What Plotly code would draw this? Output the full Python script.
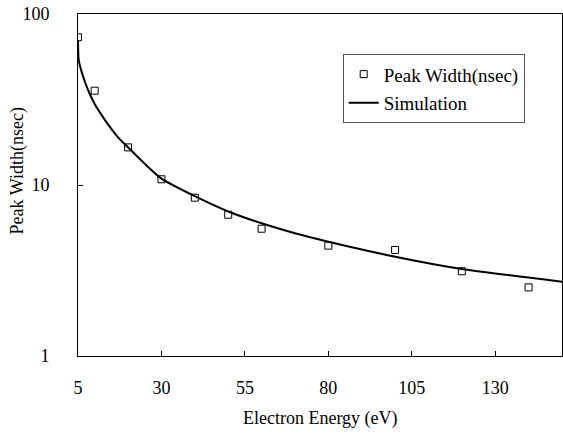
import plotly.graph_objects as go

# Measured data points
energy = [5, 10, 20, 30, 40, 50, 60, 80, 100, 120, 140]
peak_width = [73.1, 35.6, 16.6, 10.8, 8.43, 6.7, 5.55, 4.42, 4.17, 3.13, 2.52]

# Simulation curve
sim_energy = [5, 5.2, 6.0, 7.2, 8.7, 10, 12, 14, 17, 20, 25, 30, 40, 50, 60, 70, 80, 100, 120, 150]
sim_width = [70, 54, 46.5, 39.5, 33.5, 29.8, 25.8, 22.6, 19.0, 16.6, 13.3, 10.9, 8.6, 7.0, 5.97, 5.22, 4.66, 3.81, 3.23, 2.72]

x_ticks = [5, 30, 55, 80, 105, 130]
y_ticks = [1, 10, 100]

FONT = "Liberation Serif, Times New Roman, serif"

fig = go.Figure()
fig.add_trace(go.Scatter(
    x=energy, y=peak_width, mode="markers", name="Peak Width(nsec)",
    legendgroup="a",
    marker=dict(symbol="square-open", size=7, color="black", line=dict(width=1, color="black")),
))
fig.add_trace(go.Scatter(
    x=sim_energy, y=sim_width, mode="lines", name="Simulation",
    legendgroup="b",
    line=dict(color="black", width=2, shape="spline", smoothing=0.6),
))

fig.update_layout(
    width=563, height=434,
    margin=dict(l=78, r=1, t=14, b=78),
    paper_bgcolor="white", plot_bgcolor="white",
    font=dict(family=FONT, size=18, color="black"),
    showlegend=True,
    legend=dict(
        x=(342.7 - 78) / 484, y=(356 - 54.3) / 342, xanchor="left", yanchor="top",
        bordercolor="#555", borderwidth=1, bgcolor="white",
        font=dict(family=FONT, size=19, color="black"),
        traceorder="grouped", tracegroupgap=1,
        entrywidth=145, entrywidthmode="pixels",
    ),
    xaxis=dict(
        range=[5, 150], tickvals=x_ticks, ticktext=[str(v) for v in x_ticks],
        showline=True, linecolor="black", linewidth=1, mirror=True,
        ticks="inside", ticklen=5, tickcolor="black", showgrid=False, zeroline=False,
        ticklabelstandoff=15,
    ),
    yaxis=dict(
        type="log", range=[0, 2], tickvals=y_ticks, ticktext=[str(v) for v in y_ticks],
        showline=True, linecolor="black", linewidth=1, mirror=True,
        ticks="inside", ticklen=5, tickcolor="black", showgrid=False, zeroline=False,
        ticklabelstandoff=24,
    ),
    annotations=[
        dict(text="Electron Energy (eV)", xref="paper", yref="paper",
             x=0.5, y=(356 - 419) / 342, xanchor="center", yanchor="middle",
             showarrow=False, font=dict(family=FONT, size=18)),
        dict(text="Peak Width(nsec)", xref="paper", yref="paper",
             x=(17 - 78) / 484, y=(356 - 171.5) / 342, xanchor="center", yanchor="middle",
             textangle=-90, showarrow=False, font=dict(family=FONT, size=18)),
    ],
)

fig.write_html(
    "out.html",
    config={"displayModeBar": False},
    post_script="document.body.style.margin='0';document.body.style.overflow='hidden';",
)
